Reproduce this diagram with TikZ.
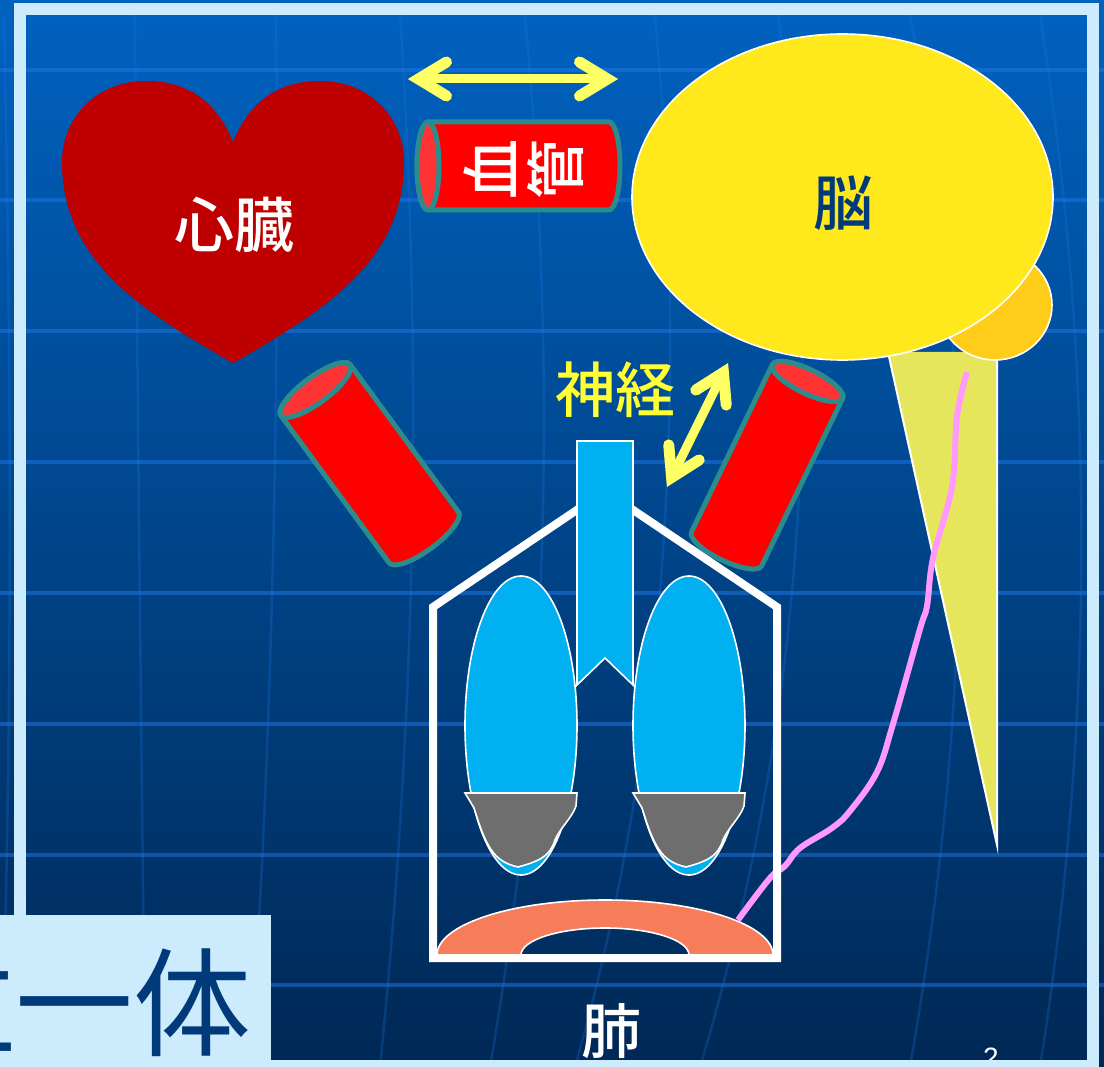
\documentclass[tikz,border=0pt]{standalone}
\usepackage{fontspec}
\setmainfont{Liberation Sans}
\newfontfamily\cjk{Noto Sans CJK JP}
\newfontfamily\cjkmid{Noto Sans CJK JP Medium}
\usetikzlibrary{calc}

\definecolor{bgtop}{RGB}{0,98,192}
\definecolor{bgbot}{RGB}{0,40,85}
\definecolor{gridblue}{RGB}{30,120,232}
\definecolor{framecol}{RGB}{204,235,252}
\definecolor{heartred}{RGB}{190,0,0}
\definecolor{arrowyellow}{RGB}{255,255,102}
\definecolor{labelyellow}{RGB}{255,255,51}
\definecolor{tubered}{RGB}{255,0,0}
\definecolor{tubeend}{RGB}{255,51,51}
\definecolor{tubeteal}{RGB}{42,140,140}
\definecolor{brainyellow}{RGB}{255,233,28}
\definecolor{cerebellum}{RGB}{255,204,26}
\definecolor{stemyellow}{RGB}{230,230,92}
\definecolor{nervepink}{RGB}{255,153,255}
\definecolor{lungblue}{RGB}{0,176,240}
\definecolor{lobegrey}{RGB}{110,110,110}
\definecolor{diaphragm}{RGB}{247,124,90}
\definecolor{navytext}{RGB}{0,58,122}

\tikzset{
  gridh/.style={draw=gridblue, opacity=0.5, line width=3.5},
  gridv/.style={draw=gridblue, opacity=0.25, line width=2.5},
  yshaft/.style={draw=arrowyellow, line width=9},
  yhead/.style={draw=arrowyellow, line width=11, line cap=round, line join=miter},
  tubebody/.style={fill=tubered, draw=tubeteal, line width=5, line join=round},
  tubecap/.style={fill=tubeend, draw=tubeteal, line width=5},
  bigjp/.style={font=\cjkmid\fontsize{60}{70}\selectfont, inner sep=0pt},
  thinwhite/.style={draw=white, line width=1.6},
}

% a blood vessel: position of the open end, axis angle, length, radius, end radius
\newcommand\bloodtube[5]{%
  \begin{scope}[shift={#1}, rotate=#2]
    \path[tubebody] (0,#4) -- (#3,#4)
      arc[start angle=90, end angle=-90, x radius=#5, y radius=#4]
      -- (0,-#4)
      arc[start angle=-90, end angle=-270, x radius=#5, y radius=#4] -- cycle;
    \path[tubecap] (0,0) ellipse[x radius=#5, y radius=#4];
  \end{scope}}

\begin{document}
\begin{tikzpicture}[x=1pt,y=-1pt]
\useasboundingbox (0,0) rectangle (1104,1067);

% background and grid
\shade[top color=bgtop, bottom color=bgbot] (0,0) rectangle (1104,1067);
\foreach \yy in {70,200,331,462,593,724,855,985}
  \draw[gridh] (0,\yy) -- (1104,\yy);
\draw[gridv] (4,15) .. controls (12,400) and (12,700) .. (2,1067);
\draw[gridv] (135,15) .. controls (137,400) and (141,700) .. (145,1067);
\draw[gridv] (276,15) .. controls (280,400) and (272,750) .. (250,1067);
\draw[gridv] (400,15) .. controls (425,400) and (412,750) .. (380,1067);
\draw[gridv] (525,15) .. controls (560,400) and (545,750) .. (490,1067);
\draw[gridv] (655,15) .. controls (690,400) and (665,750) .. (575,1067);
\draw[gridv] (778,15) .. controls (830,400) and (795,750) .. (700,1067);
\draw[gridv] (910,15) .. controls (985,400) and (965,750) .. (910,1067);
\draw[gridv] (1040,15) .. controls (1100,400) and (1090,750) .. (1040,1067);

% heart
\path[fill=heartred] (233,142)
  .. controls (250,100) and (280,81) .. (320,81)
  .. controls (370,81) and (404,118) .. (404,162)
  .. controls (404,260) and (326,310) .. (233,363)
  .. controls (140,310) and (62,260) .. (62,162)
  .. controls (62,118) and (96,81) .. (146,81)
  .. controls (186,81) and (216,100) .. (233,142) -- cycle;
\node[bigjp, text=white] (heart) at (234,225) {心臓};

% arrow between heart and brain
\coordinate (hA) at (418.5,79);
\coordinate (hB) at (607.5,79);
\draw[yshaft] (hA) -- (hB);
\draw[yhead] ($(hA)!28pt!(hB)!17pt!90:(hB)$) -- (hA) -- ($(hA)!28pt!(hB)!17pt!-90:(hB)$);
\draw[yhead] ($(hB)!28pt!(hA)!17pt!90:(hA)$) -- (hB) -- ($(hB)!28pt!(hA)!17pt!-90:(hA)$);

% blood vessels
\bloodtube{(428,166)}{0}{181}{44}{11}
\node[bigjp, text=white, rotate=90] (vessel1) at (490,170) {血};
\node[bigjp, text=white, rotate=90] (vessel2) at (556,170) {管};
\bloodtube{(315.5,390)}{-53.7}{183}{43}{13}
\bloodtube{(807.5,381.5)}{-115.8}{186}{39}{12}

% brain
\path[fill=stemyellow] (888,352) -- (997,352) -- (997,845) -- cycle;
\draw[white, line width=2] (888,352) -- (997,845) -- (997,352);
\path[fill=cerebellum, thinwhite] (995,305) ellipse[x radius=57, y radius=55];
\path[fill=brainyellow, thinwhite] (842.5,197) ellipse[x radius=210.5, y radius=163];
\node[bigjp, text=navytext] (brain) at (843,203) {脳};

% nerve
\node[bigjp, text=labelyellow] (nerve) at (615,390) {神経};
\coordinate (nA) at (671.6,477.5);
\coordinate (nB) at (723.4,372.5);
\draw[yshaft] (nA) -- (nB);
\draw[yhead] ($(nA)!28pt!(nB)!17pt!90:(nB)$) -- (nA) -- ($(nA)!28pt!(nB)!17pt!-90:(nB)$);
\draw[yhead] ($(nB)!28pt!(nA)!17pt!90:(nA)$) -- (nB) -- ($(nB)!28pt!(nA)!17pt!-90:(nA)$);

% nerve fibre from the brainstem down to the diaphragm
\draw[nervepink, line width=6, line cap=butt] plot[smooth, tension=0.6] coordinates {
  (967,372) (957,416) (952,487) (933,558) (927,606) (920,629) (893,724)
  (877,772) (850,811) (832,828) (800,848) (785,866) (770,878) (738,920)};

% chest
\draw[white, line width=8, line join=miter] (433,958) -- (433,607) -- (605,491) -- (777,607) -- (777,958) -- cycle;
\path[fill=lungblue, thinwhite] (577,441) -- (633,441) -- (633,685) -- (605,658) -- (577,685) -- cycle;
\path[fill=lungblue, thinwhite] (521,725.5) ellipse[x radius=56, y radius=149.5];
\path[fill=lungblue, thinwhite] (689,725.5) ellipse[x radius=56, y radius=149.5];
\foreach \dx in {0,168} {
  \begin{scope}[xshift=\dx]
    \path[fill=lobegrey, thinwhite] (465,793) -- (577,793) -- (576,806)
      .. controls (572,818) and (560,828) .. (555,840)
      .. controls (550,856) and (540,861) .. (518,867)
      .. controls (505,864) and (497,859) .. (490,848)
      .. controls (482,835) and (478,820) .. (474,808) -- cycle;
  \end{scope}
}
\path[fill=diaphragm, thinwhite] (437,955)
  arc[start angle=180, end angle=360, x radius=168, y radius=55]
  -- (689,955)
  arc[start angle=0, end angle=-180, x radius=84, y radius=27] -- cycle;
\node[bigjp, text=white] (lung) at (611,1031) {肺};

% page number and slide frame
\node[font=\fontsize{28}{32}\selectfont, text=white, anchor=base, inner sep=0pt] (pageno) at (991,1067) {2};
\draw[draw=framecol, line width=12] (20,9) rectangle (1093,1066);

% title box
\fill[framecol] (0,915) rectangle (271,1067);
\node[font=\cjk\fontsize{118}{130}\selectfont, text=navytext, anchor=east, inner sep=0pt] (title) at (252,1003) {三位一体};
\end{tikzpicture}
\end{document}
